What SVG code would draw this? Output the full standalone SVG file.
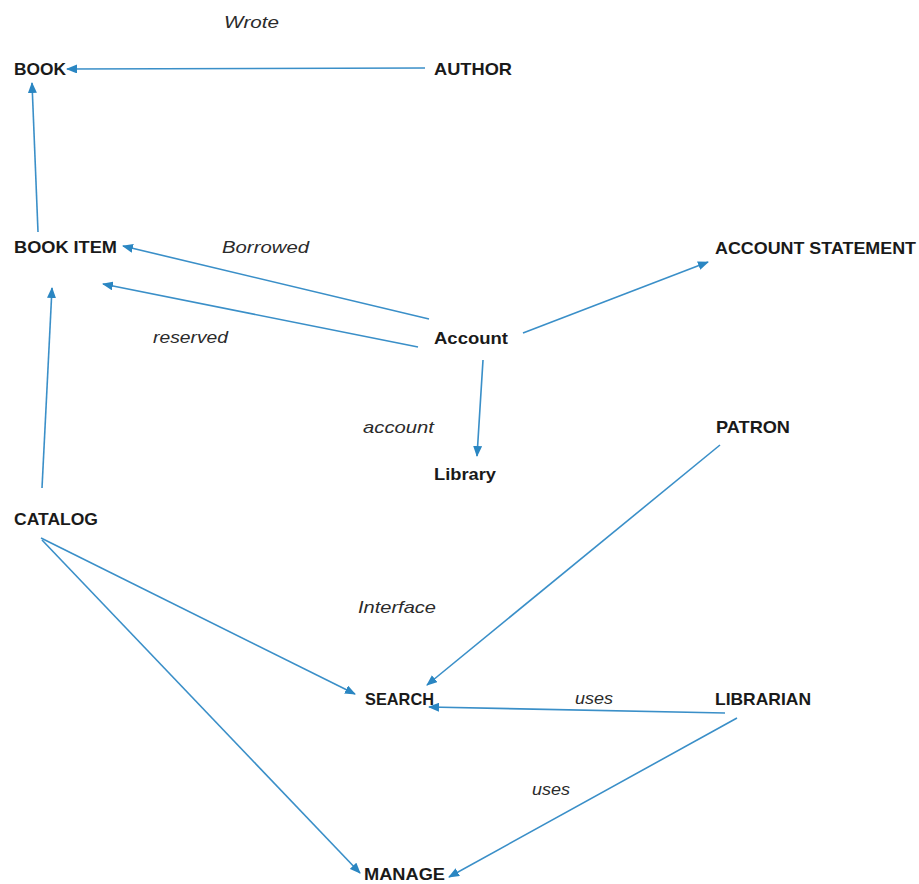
<svg xmlns="http://www.w3.org/2000/svg" width="919" height="884" viewBox="0 0 919 884">
<defs>
<marker id="ah" markerWidth="11" markerHeight="9" refX="10" refY="4.5" orient="auto" markerUnits="userSpaceOnUse">
<path d="M0,0 L11,4.5 L0,9 Z" fill="#2a86c2"/>
</marker>
<style>
.n{font-family:"Liberation Sans",Arial,sans-serif;font-weight:bold;font-size:17px;fill:#1a1a1a}
.l{font-family:"Liberation Sans",Arial,sans-serif;font-style:italic;font-size:17px;fill:#2b2b2b}
.c{stroke:#3a8fc8;stroke-width:1.6;fill:none;marker-end:url(#ah)}
</style>
</defs>
<rect width="919" height="884" fill="#ffffff"/>
<g id="connectors">
<line class="c" x1="425" y1="68" x2="67" y2="69"/>
<line class="c" x1="38" y1="232" x2="32" y2="83"/>
<line class="c" x1="429" y1="319" x2="123" y2="246"/>
<line class="c" x1="418" y1="347" x2="103" y2="284"/>
<line class="c" x1="42" y1="488" x2="52" y2="288"/>
<line class="c" x1="523" y1="333" x2="708" y2="262"/>
<line class="c" x1="483" y1="360" x2="477" y2="456"/>
<line class="c" x1="720" y1="445" x2="427" y2="685"/>
<line class="c" x1="41" y1="538" x2="355" y2="694"/>
<line class="c" x1="42" y1="540" x2="360" y2="873"/>
<line class="c" x1="725" y1="713" x2="429" y2="707"/>
<line class="c" x1="737" y1="718" x2="449" y2="877"/>
</g>
<g id="labels">
<text class="l" x="224" y="28" textLength="55" lengthAdjust="spacingAndGlyphs">Wrote</text>
<text class="l" x="222" y="253" textLength="87" lengthAdjust="spacingAndGlyphs">Borrowed</text>
<text class="l" x="153" y="343" textLength="75" lengthAdjust="spacingAndGlyphs">reserved</text>
<text class="l" x="363" y="433" textLength="71" lengthAdjust="spacingAndGlyphs">account</text>
<text class="l" x="358" y="613" textLength="78" lengthAdjust="spacingAndGlyphs">Interface</text>
<text class="l" x="575" y="704" textLength="38" lengthAdjust="spacingAndGlyphs">uses</text>
<text class="l" x="532" y="795" textLength="38" lengthAdjust="spacingAndGlyphs">uses</text>
</g>
<g id="book"><text class="n" x="14" y="75" textLength="52" lengthAdjust="spacingAndGlyphs">BOOK</text></g>
<g id="author"><text class="n" x="434" y="75" textLength="78" lengthAdjust="spacingAndGlyphs">AUTHOR</text></g>
<g id="book-item"><text class="n" x="14" y="253" textLength="103" lengthAdjust="spacingAndGlyphs">BOOK ITEM</text></g>
<g id="account-statement"><text class="n" x="715" y="254" textLength="201" lengthAdjust="spacingAndGlyphs">ACCOUNT STATEMENT</text></g>
<g id="account"><text class="n" x="434" y="344" textLength="74" lengthAdjust="spacingAndGlyphs">Account</text></g>
<g id="library"><text class="n" x="434" y="480" textLength="62" lengthAdjust="spacingAndGlyphs">Library</text></g>
<g id="patron"><text class="n" x="716" y="433" textLength="74" lengthAdjust="spacingAndGlyphs">PATRON</text></g>
<g id="catalog"><text class="n" x="14" y="525" textLength="84" lengthAdjust="spacingAndGlyphs">CATALOG</text></g>
<g id="search"><text class="n" x="365" y="705" textLength="69" lengthAdjust="spacingAndGlyphs">SEARCH</text></g>
<g id="librarian"><text class="n" x="715" y="705" textLength="96" lengthAdjust="spacingAndGlyphs">LIBRARIAN</text></g>
<g id="manage"><text class="n" x="364" y="880" textLength="81" lengthAdjust="spacingAndGlyphs">MANAGE</text></g>
</svg>
